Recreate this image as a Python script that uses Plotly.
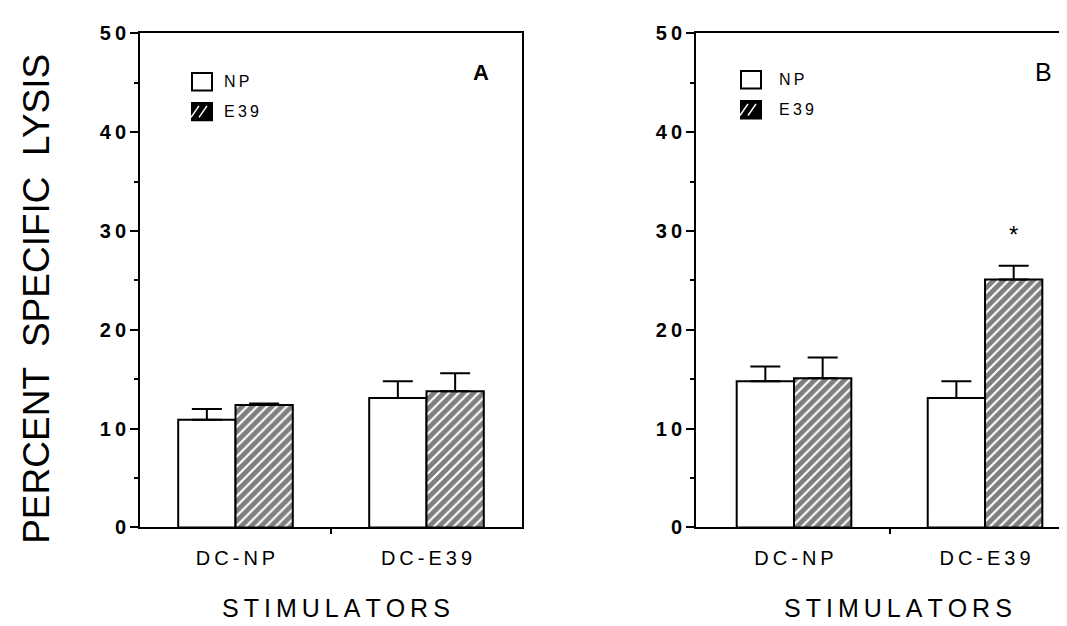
import plotly.graph_objects as go

# ---- data ----
stimulators = ["DC-NP", "DC-E39"]
panelA_np = [10.9, 13.1]
panelA_np_err = [1.1, 1.7]
panelA_e39 = [12.4, 13.8]
panelA_e39_err = [0.15, 1.8]
panelB_np = [14.8, 13.1]
panelB_np_err = [1.5, 1.7]
panelB_e39 = [15.1, 25.1]
panelB_e39_err = [2.1, 1.4]
y_ticks = [0, 10, 20, 30, 40, 50]
series_names = ["NP", "E39"]

W, H = 1067, 626
def px(x):
    return x / W
def py(y):
    return 1 - y / H

FONT = "Liberation Sans"
THIN = "\u2009"
xpos = list(range(len(stimulators)))

fig = go.Figure()

def add_panel(xa, ya, np_vals, np_err, e39_vals, e39_err):
    fig.add_trace(go.Bar(
        x=xpos, y=np_vals, name=series_names[0], xaxis=xa, yaxis=ya,
        marker=dict(color="white", line=dict(color="black", width=2)),
        error_y=dict(type="data", symmetric=False, array=np_err,
                     arrayminus=[0] * len(np_err), color="black",
                     thickness=2, width=15),
        offsetgroup="np", showlegend=False))
    fig.add_trace(go.Bar(
        x=xpos, y=e39_vals, name=series_names[1], xaxis=xa, yaxis=ya,
        marker=dict(color="white", line=dict(color="black", width=2),
                    pattern=dict(shape="/", fgcolor="black", bgcolor="white",
                                 size=7, solidity=0.7)),
        error_y=dict(type="data", symmetric=False, array=e39_err,
                     arrayminus=[0] * len(e39_err), color="black",
                     thickness=2, width=15),
        offsetgroup="e39", showlegend=False))

add_panel("x", "y", panelA_np, panelA_np_err, panelA_e39, panelA_e39_err)
add_panel("x2", "y2", panelB_np, panelB_np_err, panelB_e39, panelB_e39_err)

y_ticktext = [THIN.join(str(v)) for v in y_ticks]
x_ticktext = [THIN.join(s) for s in stimulators]

yaxis_common = dict(
    range=[0, 50], tickvals=y_ticks, ticktext=y_ticktext,
    ticks="outside", ticklen=8, tickwidth=2, tickcolor="black",
    showline=True, linecolor="black", linewidth=2, showgrid=False,
    zeroline=False, tickfont=dict(family=FONT, size=20, color="black", weight="bold"),
    minor=dict(dtick=5, ticks="outside", ticklen=4, tickwidth=2,
               tickcolor="black", showgrid=False),
)
xaxis_common = dict(
    tickvals=xpos, ticktext=x_ticktext, ticks="", ticklabelstandoff=12,
    showline=True, linecolor="black", linewidth=2, showgrid=False,
    zeroline=False, tickfont=dict(family=FONT, size=20, color="black"),
    minor=dict(tickvals=[0.5], ticks="outside", ticklen=5, tickwidth=2,
               tickcolor="black", showgrid=False),
)

fig.update_layout(
    width=W, height=H, margin=dict(l=0, r=0, t=0, b=0),
    paper_bgcolor="white", plot_bgcolor="white",
    barmode="group", bargap=0.4, bargroupgap=0,
    xaxis=dict(domain=[px(132), px(514)], range=[-0.5, 1.5], anchor="y",
               mirror=True, **xaxis_common),
    yaxis=dict(domain=[py(527), py(15)], anchor="x", mirror=True, **yaxis_common),
    xaxis2=dict(domain=[px(688), 1.0], range=[-0.513, 1.471], anchor="y2",
                mirror=True, **xaxis_common),
    yaxis2=dict(domain=[py(527), py(15)], anchor="x2", **yaxis_common),
)

ann = []
def paper_text(text, x, y, size, xanchor="center", angle=0):
    ann.append(dict(text=text, x=px(x), y=py(y), xref="paper", yref="paper",
                    xanchor=xanchor, yanchor="middle", textangle=angle,
                    showarrow=False, font=dict(family=FONT, size=size, color="black")))

# y-axis title
paper_text("PERCENT  SPECIFIC  LYSIS", 29, 290, 37, angle=-90)
# x titles
paper_text(THIN.join("STIMULATORS"), 328, 610, 25)
paper_text(THIN.join("STIMULATORS"), 890, 610, 25)
# panel labels
paper_text("<b>A</b>", 473, 55, 22)
paper_text("B", 1035, 55, 25)
# significance star on panel B E39 / DC-E39
ann.append(dict(text="*", x=1 + 0.15, y=panelB_e39[1] + panelB_e39_err[1] + 3.2,
                xref="x2", yref="y2", xanchor="center", yanchor="middle",
                showarrow=False, font=dict(family=FONT, size=24, color="black")))

shapes = []
def legend(x0, y_np, y_e39, xt):
    shapes.append(dict(type="rect", xref="paper", yref="paper",
                       x0=px(x0), x1=px(x0 + 20), y0=py(y_np + 9), y1=py(y_np - 9),
                       line=dict(color="black", width=2), fillcolor="white"))
    shapes.append(dict(type="rect", xref="paper", yref="paper",
                       x0=px(x0), x1=px(x0 + 20), y0=py(y_e39 + 9), y1=py(y_e39 - 9),
                       line=dict(color="black", width=2), fillcolor="black"))
    for d in (-5, 3):
        shapes.append(dict(type="line", xref="paper", yref="paper",
                           x0=px(x0 + 4 + d), y0=py(y_e39 + 6),
                           x1=px(x0 + 12 + d), y1=py(y_e39 - 6),
                           line=dict(color="white", width=1.5)))
    for name, yy in zip(series_names, (y_np, y_e39)):
        paper_text(THIN.join(name), xt, yy, 16, xanchor="left")

legend(184, 65, 96, 214)
legend(733, 63, 94, 769)

fig.update_layout(annotations=ann, shapes=shapes)
fig.write_html("out.html")
